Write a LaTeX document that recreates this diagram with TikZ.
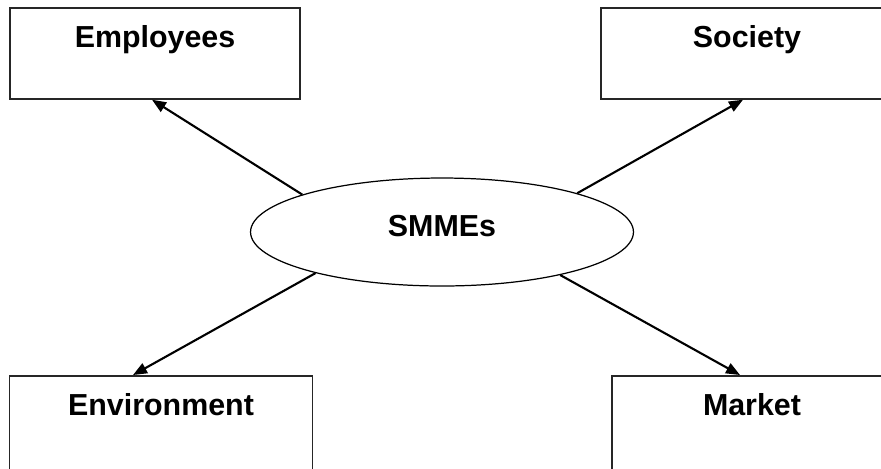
\documentclass[tikz,border=0pt]{standalone}
\usepackage{fontspec}
\setmainfont{Liberation Sans}
\usetikzlibrary{arrows.meta,shapes.geometric}
\tikzset{
    facet/.style={rectangle, draw=black!85, line width=1pt, anchor=north, inner sep=0pt,
        text height=0.80cm, text depth=1.02cm, font=\fontsize{17.3}{20}\selectfont\bfseries},
    hub/.style={ellipse, draw, line width=0.7pt, minimum width=7.66cm, minimum height=2.16cm,
        inner sep=0pt, text height=0.44cm, text depth=0.28cm, font=\fontsize{17.3}{20}\selectfont\bfseries},
    link/.style={line width=1.2pt, -{Triangle[length=0.28cm,width=0.22cm]}}
}
\begin{document}
\begin{tikzpicture}[x=0.02cm, y=-0.02cm]
    \useasboundingbox (0,0) rectangle (881,468);
    \clip (0,0) rectangle (881,468);
    % centre
    \node[hub] (smme) at (442,232) {SMMEs};
    % the four stakeholders
    \node[facet, minimum width=5.8cm]  (emp) at (155,7) {Employees};
    \node[facet, minimum width=5.84cm] (soc) at (747,7) {Society};
    \node[facet, minimum width=6.06cm, text depth=1.4cm] (env) at (161,375) {Environment};
    \node[facet, minimum width=5.6cm,  text depth=1.4cm] (mkt) at (752,375) {Market};
    \draw[link] (smme.165) -- ([xshift=-0.06cm]emp.south);
    \draw[link] (smme.16)  -- ([xshift=-0.08cm]soc.south);
    \draw[link] (smme.198) -- ([xshift=-0.56cm]env.north);
    \draw[link] (smme.340) -- ([xshift=-0.24cm]mkt.north);
\end{tikzpicture}
\end{document}
